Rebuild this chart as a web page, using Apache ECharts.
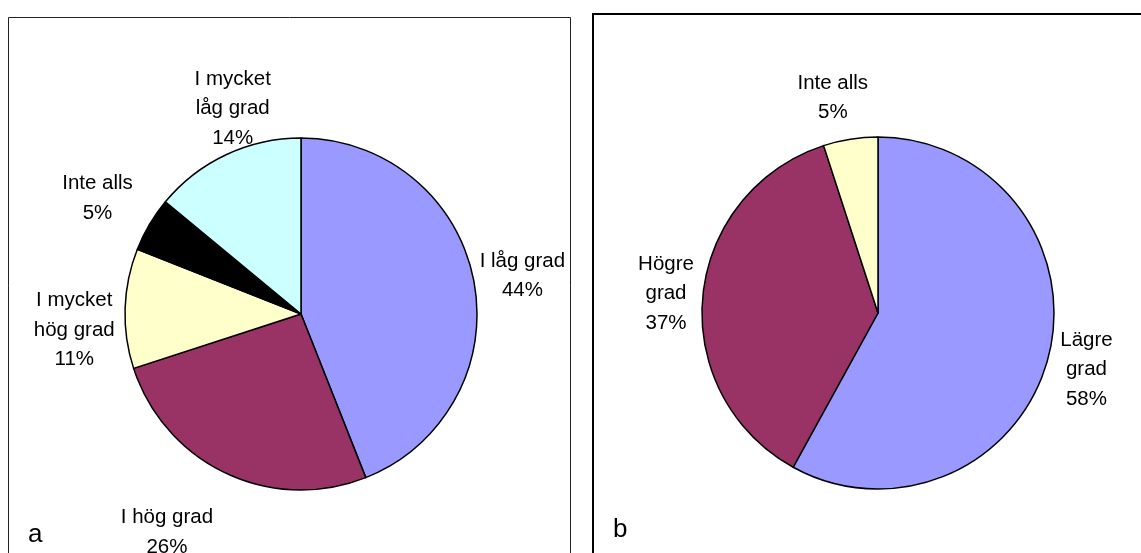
<!DOCTYPE html>
<html>
<head>
<meta charset="utf-8">
<script src="https://cdn.jsdelivr.net/npm/echarts@6/dist/echarts.min.js"></script>
<style>
html,body{margin:0;padding:0;background:#fff;}
#chart{width:1141px;height:553px;}
</style>
</head>
<body>
<div id="chart"></div>
<script>
// ---- data ----
const leftCategories = ['I låg grad', 'I hög grad', 'I mycket\nhög grad', 'Inte alls', 'I mycket\nlåg grad'];
const leftValues = [44, 26, 11, 5, 14];
const leftColors = ['#9999FF', '#993366', '#FFFFCC', '#000000', '#CCFFFF'];

const rightCategories = ['Lägre\ngrad', 'Högre\ngrad', 'Inte alls'];
const rightValues = [58, 37, 5];
const rightColors = ['#9999FF', '#993366', '#FFFFCC'];

const panelLabels = ['a', 'b'];

// ---- layout (label nudges relative to the computed outside position) ----
const FONT = '"Liberation Sans", Arial, sans-serif';
const R = 176;
const leftCenter = [301, 314];
const rightCenter = [878, 313];
const GAP = 8;
const leftNudge = [[-6, 5], [-36, 10], [-1, 23], [-6, 1], [34, 12]];
const rightNudge = [[-5, 2], [3, 1], [-11, 1]];

function makeLayout(values, center, nudge) {
  const total = values.reduce((s, v) => s + v, 0);
  const mids = [];
  let cum = 0;
  values.forEach(v => { mids.push(2 * Math.PI * (cum + v / 2) / total); cum += v; });
  return function (params) {
    const th = mids[params.dataIndex];
    const ux = Math.sin(th), uy = -Math.cos(th);
    const w = params.labelRect.width / 2, h = params.labelRect.height / 2;
    const d = R + GAP + Math.abs(ux) * w + Math.abs(uy) * h;
    const n = nudge[params.dataIndex] || [0, 0];
    return {
      x: center[0] + ux * d + n[0],
      y: center[1] + uy * d + n[1],
      align: 'center',
      verticalAlign: 'middle'
    };
  };
}

function makeSeries(cats, vals, colors, center, nudge) {
  return {
    type: 'pie',
    center: center,
    radius: R,
    startAngle: 90,
    clockwise: true,
    avoidLabelOverlap: false,
    animation: false,
    silent: true,
    data: vals.map((v, i) => ({ name: cats[i], value: v, itemStyle: { color: colors[i] } })),
    itemStyle: { borderColor: '#000', borderWidth: 1.5 },
    label: {
      show: true,
      position: 'outside',
      formatter: p => p.name + '\n' + p.value + '%',
      fontFamily: FONT,
      fontSize: 20.5,
      lineHeight: 29.5,
      color: '#000',
      align: 'center'
    },
    labelLine: { show: false },
    labelLayout: makeLayout(vals, center, nudge),
    emphasis: { disabled: true }
  };
}

const chart = echarts.init(document.getElementById('chart'), null, { renderer: 'canvas' });
chart.setOption({
  backgroundColor: '#fff',
  animation: false,
  graphic: [
    { type: 'rect', shape: { x: 8.5, y: 17.5, width: 562, height: 600 },
      style: { fill: 'none', stroke: '#222', lineWidth: 1 }, z: 0 },
    { type: 'rect', shape: { x: 593, y: 14, width: 600, height: 600 },
      style: { fill: 'none', stroke: '#000', lineWidth: 2 }, z: 0 },
    { type: 'text', left: 28, top: 522,
      style: { text: panelLabels[0], font: '26px ' + FONT, fill: '#000' } },
    { type: 'text', left: 613, top: 517,
      style: { text: panelLabels[1], font: '26px ' + FONT, fill: '#000' } }
  ],
  series: [
    makeSeries(leftCategories, leftValues, leftColors, leftCenter, leftNudge),
    makeSeries(rightCategories, rightValues, rightColors, rightCenter, rightNudge)
  ]
});
</script>
</body>
</html>
